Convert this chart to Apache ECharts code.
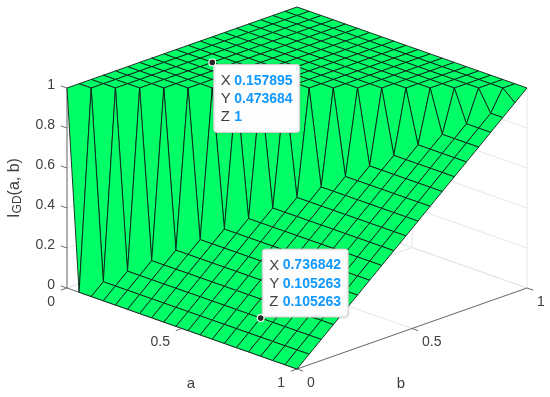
<!DOCTYPE html>
<html>
<head>
<meta charset="utf-8">
<script src="https://cdn.jsdelivr.net/npm/echarts@6/dist/echarts.min.js"></script>
<style>
  html, body { margin: 0; padding: 0; background: #fff; }
  #main { width: 550px; height: 397px; }
</style>
</head>
<body>
<div id="main"></div>
<script>
// grid of the surface
const aValues = [0, 0.0526, 0.1053, 0.1579, 0.2105, 0.2632, 0.3158, 0.3684, 0.4211, 0.4737, 0.5263, 0.5789, 0.6316, 0.6842, 0.7368, 0.7895, 0.8421, 0.8947, 0.9474, 1];
const bValues = [0, 0.0526, 0.1053, 0.1579, 0.2105, 0.2632, 0.3158, 0.3684, 0.4211, 0.4737, 0.5263, 0.5789, 0.6316, 0.6842, 0.7368, 0.7895, 0.8421, 0.8947, 0.9474, 1];
// one row per a, one column per b
const zRows = [
  [1, 1, 1, 1, 1, 1, 1, 1, 1, 1, 1, 1, 1, 1, 1, 1, 1, 1, 1, 1],
  [0, 1, 1, 1, 1, 1, 1, 1, 1, 1, 1, 1, 1, 1, 1, 1, 1, 1, 1, 1],
  [0, 0.0526, 1, 1, 1, 1, 1, 1, 1, 1, 1, 1, 1, 1, 1, 1, 1, 1, 1, 1],
  [0, 0.0526, 0.1053, 1, 1, 1, 1, 1, 1, 1, 1, 1, 1, 1, 1, 1, 1, 1, 1, 1],
  [0, 0.0526, 0.1053, 0.1579, 1, 1, 1, 1, 1, 1, 1, 1, 1, 1, 1, 1, 1, 1, 1, 1],
  [0, 0.0526, 0.1053, 0.1579, 0.2105, 1, 1, 1, 1, 1, 1, 1, 1, 1, 1, 1, 1, 1, 1, 1],
  [0, 0.0526, 0.1053, 0.1579, 0.2105, 0.2632, 1, 1, 1, 1, 1, 1, 1, 1, 1, 1, 1, 1, 1, 1],
  [0, 0.0526, 0.1053, 0.1579, 0.2105, 0.2632, 0.3158, 1, 1, 1, 1, 1, 1, 1, 1, 1, 1, 1, 1, 1],
  [0, 0.0526, 0.1053, 0.1579, 0.2105, 0.2632, 0.3158, 0.3684, 1, 1, 1, 1, 1, 1, 1, 1, 1, 1, 1, 1],
  [0, 0.0526, 0.1053, 0.1579, 0.2105, 0.2632, 0.3158, 0.3684, 0.4211, 1, 1, 1, 1, 1, 1, 1, 1, 1, 1, 1],
  [0, 0.0526, 0.1053, 0.1579, 0.2105, 0.2632, 0.3158, 0.3684, 0.4211, 0.4737, 1, 1, 1, 1, 1, 1, 1, 1, 1, 1],
  [0, 0.0526, 0.1053, 0.1579, 0.2105, 0.2632, 0.3158, 0.3684, 0.4211, 0.4737, 0.5263, 1, 1, 1, 1, 1, 1, 1, 1, 1],
  [0, 0.0526, 0.1053, 0.1579, 0.2105, 0.2632, 0.3158, 0.3684, 0.4211, 0.4737, 0.5263, 0.5789, 1, 1, 1, 1, 1, 1, 1, 1],
  [0, 0.0526, 0.1053, 0.1579, 0.2105, 0.2632, 0.3158, 0.3684, 0.4211, 0.4737, 0.5263, 0.5789, 0.6316, 1, 1, 1, 1, 1, 1, 1],
  [0, 0.0526, 0.1053, 0.1579, 0.2105, 0.2632, 0.3158, 0.3684, 0.4211, 0.4737, 0.5263, 0.5789, 0.6316, 0.6842, 1, 1, 1, 1, 1, 1],
  [0, 0.0526, 0.1053, 0.1579, 0.2105, 0.2632, 0.3158, 0.3684, 0.4211, 0.4737, 0.5263, 0.5789, 0.6316, 0.6842, 0.7368, 1, 1, 1, 1, 1],
  [0, 0.0526, 0.1053, 0.1579, 0.2105, 0.2632, 0.3158, 0.3684, 0.4211, 0.4737, 0.5263, 0.5789, 0.6316, 0.6842, 0.7368, 0.7895, 1, 1, 1, 1],
  [0, 0.0526, 0.1053, 0.1579, 0.2105, 0.2632, 0.3158, 0.3684, 0.4211, 0.4737, 0.5263, 0.5789, 0.6316, 0.6842, 0.7368, 0.7895, 0.8421, 1, 1, 1],
  [0, 0.0526, 0.1053, 0.1579, 0.2105, 0.2632, 0.3158, 0.3684, 0.4211, 0.4737, 0.5263, 0.5789, 0.6316, 0.6842, 0.7368, 0.7895, 0.8421, 0.8947, 1, 1],
  [0, 0.0526, 0.1053, 0.1579, 0.2105, 0.2632, 0.3158, 0.3684, 0.4211, 0.4737, 0.5263, 0.5789, 0.6316, 0.6842, 0.7368, 0.7895, 0.8421, 0.8947, 0.9474, 1]
];
const abTicks = [0, 0.5, 1];
const abTickLabels = ['0', '0.5', '1'];
const zTicks = [0, 0.2, 0.4, 0.6, 0.8, 1];
const zTickLabels = ['0', '0.2', '0.4', '0.6', '0.8', '1'];
const tipX = ['0.157895', '0.736842'];
const tipY = ['0.473684', '0.105263'];
const tipZ = ['1', '0.105263'];

const FONT = '"Liberation Sans", Arial, sans-serif';
const TEXT_COLOR = '#404040';
const TILT = 0.405; // view elevation, as share of the z height
const TICK = 0.027;

// orthographic view: (a, b, z) -> plane of the hidden cartesian axes
function project(a, b, z) {
  return [a + b, z + TILT * (b - a)];
}

const chart = echarts.init(document.getElementById('main'), null, { renderer: 'canvas' });

function seg(a1, b1, z1, a2, b2, z2) {
  return [a1, b1, z1, a2, b2, z2];
}

// back planes and floor
const wallSegs = [];
zTicks.forEach(function (z) {
  wallSegs.push(seg(0, 0, z, 0, 1, z), seg(0, 1, z, 1, 1, z));
});
abTicks.forEach(function (t) {
  wallSegs.push(seg(t, 0, 0, t, 1, 0), seg(0, t, 0, 1, t, 0));
  wallSegs.push(seg(t, 1, 0, t, 1, 1), seg(0, t, 0, 0, t, 1));
});

// rulers with their ticks
const axisSegs = [seg(0, 0, 0, 1, 0, 0), seg(1, 0, 0, 1, 1, 0), seg(0, 0, 0, 0, 0, 1)];
abTicks.forEach(function (t) {
  axisSegs.push(seg(t, 0, 0, t, -TICK, 0), seg(1, t, 0, 1 + TICK, t, 0));
});
zTicks.forEach(function (z) {
  axisSegs.push(seg(0, 0, z, -TICK, 0, z));
});

// cells from the far corner (a=0, b=1) to the near one (a=1, b=0)
const cells = [];
for (let i = 0; i < aValues.length - 1; i++) {
  for (let j = bValues.length - 2; j >= 0; j--) {
    cells.push([i, j]);
  }
}

// tick labels: [a, b, z, text, dx, dy, align]
const labels = [];
abTicks.forEach(function (t, k) {
  labels.push([t, 0, 0, abTickLabels[k], -12, 14, 'right']);
  labels.push([1, t, 0, abTickLabels[k], 10, 14, 'left']);
});
zTicks.forEach(function (z, k) {
  labels.push([0, 0, z, zTickLabels[k], -12, -3, 'right']);
});

function segmentRenderer(color, width) {
  return function (params, api) {
    const p1 = api.coord(project(api.value(0), api.value(1), api.value(2)));
    const p2 = api.coord(project(api.value(3), api.value(4), api.value(5)));
    return {
      type: 'line',
      shape: { x1: p1[0], y1: p1[1], x2: p2[0], y2: p2[1] },
      style: { stroke: color, lineWidth: width }
    };
  };
}

function txt(x, y, text, align, extra) {
  return {
    type: 'text',
    x: x,
    y: y,
    style: Object.assign({
      text: text,
      fill: TEXT_COLOR,
      font: '14px ' + FONT,
      align: align,
      verticalAlign: 'middle'
    }, extra || {})
  };
}

const option = {
  animation: false,
  backgroundColor: '#fff',
  grid: { left: 67, right: 23, top: 7, bottom: 28 },
  xAxis: { type: 'value', min: 0, max: 2, show: false },
  yAxis: { type: 'value', min: -TILT, max: 1 + TILT, show: false },
  series: [
    {
      type: 'custom',
      coordinateSystem: 'cartesian2d',
      clip: false,
      silent: true,
      data: wallSegs,
      renderItem: segmentRenderer('#e6e6e6', 1)
    },
    {
      type: 'custom',
      coordinateSystem: 'cartesian2d',
      clip: false,
      silent: true,
      data: axisSegs,
      renderItem: segmentRenderer('#6e6e6e', 1)
    },
    {
      type: 'custom',
      coordinateSystem: 'cartesian2d',
      clip: false,
      silent: true,
      data: cells,
      renderItem: function (params, api) {
        const i = api.value(0);
        const j = api.value(1);
        const corners = [[i, j], [i + 1, j], [i + 1, j + 1], [i, j + 1]];
        return {
          type: 'polygon',
          shape: {
            points: corners.map(function (c) {
              return api.coord(project(aValues[c[0]], bValues[c[1]], zRows[c[0]][c[1]]));
            })
          },
          style: { fill: '#00ff66', stroke: '#0f2018', lineWidth: 0.9 }
        };
      }
    },
    {
      type: 'custom',
      coordinateSystem: 'cartesian2d',
      clip: false,
      silent: true,
      data: labels,
      renderItem: function (params, api) {
        const row = labels[params.dataIndex];
        const p = api.coord(project(row[0], row[1], row[2]));
        return txt(p[0] + row[4], p[1] + row[5], row[3], row[6]);
      }
    },
    {
      // axis names
      type: 'custom',
      coordinateSystem: 'cartesian2d',
      clip: false,
      silent: true,
      data: [[0]],
      renderItem: function (params, api) {
        const aPos = api.coord(project(0.5, 0, 0));
        const bPos = api.coord(project(1, 0.5, 0));
        const zPos = api.coord(project(0, 0, 0.5));
        const zName = txt(zPos[0] - 52, zPos[1], '{i|I}{s|GD}{i|(a, b)}', 'center', {
          rich: {
            i: { fontFamily: FONT, fontSize: 16, fill: TEXT_COLOR, lineHeight: 18 },
            s: { fontFamily: FONT, fontSize: 12, fill: TEXT_COLOR, verticalAlign: 'bottom', lineHeight: 14, padding: [5, 0, 0, 0] }
          }
        });
        zName.rotation = Math.PI / 2;
        return {
          type: 'group',
          children: [
            txt(aPos[0] + 9, aPos[1] + 55, 'a', 'center', { font: '15px ' + FONT }),
            txt(bPos[0] - 11, bPos[1] + 55, 'b', 'center', { font: '15px ' + FONT }),
            zName
          ]
        };
      }
    },
    {
      // data tips
      type: 'custom',
      coordinateSystem: 'cartesian2d',
      clip: false,
      silent: true,
      data: tipX.map(function (x, k) { return [Number(x), Number(tipY[k]), Number(tipZ[k])]; }),
      renderItem: function (params, api) {
        const k = params.dataIndex;
        const p = api.coord(project(api.value(0), api.value(1), api.value(2)));
        const left = p[0] + 1.5;
        const top = k === 0 ? p[1] + 2 : p[1] - 69;
        const rows = [['X', tipX[k]], ['Y', tipY[k]], ['Z', tipZ[k]]];
        const children = [
          {
            type: 'rect',
            shape: { x: left, y: top, width: 86, height: 68, r: 3 },
            style: { fill: '#fdfdfd', stroke: '#d4d4d4', lineWidth: 1, shadowBlur: 3, shadowColor: 'rgba(0,0,0,0.15)' }
          },
          {
            type: 'circle',
            shape: { cx: p[0], cy: p[1], r: 3.4 },
            style: { fill: '#262626', stroke: '#fff', lineWidth: 1.2 }
          }
        ];
        rows.forEach(function (r, n) {
          const y = top + 16.5 + n * 18.2;
          children.push(txt(left + 7, y, r[0], 'left', { font: '15px ' + FONT }));
          children.push(txt(left + 20.5, y, r[1], 'left', { font: 'bold 14px ' + FONT, fill: '#1199ff' }));
        });
        return { type: 'group', children: children };
      }
    }
  ]
};

chart.setOption(option);
</script>
</body>
</html>
